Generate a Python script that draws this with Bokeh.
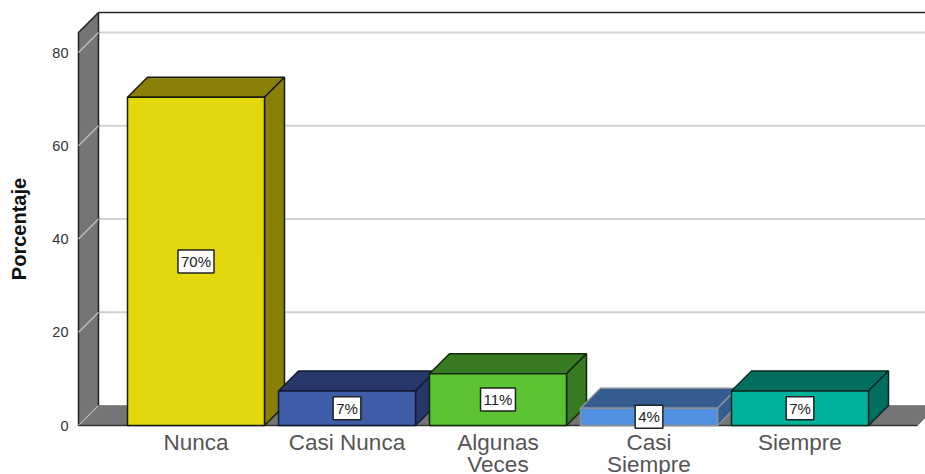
from bokeh.plotting import figure
from bokeh.models import Label, Range1d, FixedTicker
from bokeh.embed import file_html
from bokeh.resources import INLINE

categories = ["Nunca", "Casi Nunca", "Algunas\nVeces", "Casi\nSiempre", "Siempre"]
values = [70.4, 7.4, 11.1, 3.7, 7.4]
labels = ["70%", "7%", "11%", "4%", "7%"]
y_ticks = [0, 20, 40, 60, 80]
y_title = "Porcentaje"
front = ["#E3D80E", "#3F5CA8", "#5CC332", "#4F90E0", "#00B29C"]
side = ["#8B8007", "#27376A", "#387A22", "#355C90", "#006F60"]
edge = ["#1a1a00", "#111a30", "#10280a", "#8a8f98", "#00281f"]

W, H = 925, 474
ZERO_Y = 425
CAT_PX, ZERO_PX, UNIT_PX = 151.0, 195.5, (425 - 52) / 80
BAR = 137 / 151
DX, DY = 20 / CAT_PX, 20 / UNIT_PX

x0 = -ZERO_PX / CAT_PX
x1 = (W - ZERO_PX) / CAT_PX
axis_x = (72 - ZERO_PX) / CAT_PX
wall_x = (78 - ZERO_PX) / CAT_PX
floor_x = (917 - ZERO_PX) / CAT_PX
title_x = (18.5 - ZERO_PX) / CAT_PX
TOP = (425 - 32) / UNIT_PX

p = figure(width=W, height=H, output_backend="svg", toolbar_location=None,
           x_range=Range1d(x0, x1),
           y_range=Range1d(-(H - ZERO_Y) / UNIT_PX, ZERO_Y / UNIT_PX),
           min_border_left=0, min_border_right=0, min_border_top=0, min_border_bottom=0)
p.outline_line_color = None
p.grid.visible = False

# back wall top edge
p.line([wall_x + DX, x1], [TOP + DY, TOP + DY], line_color="#222222", line_width=1.5)
# back wall grid
for t in y_ticks[1:]:
    p.line([wall_x + DX, x1], [t + DY, t + DY], line_color="#d2d2d2", line_width=2)
# floor
p.patch([wall_x, floor_x, floor_x + DX, wall_x + DX], [0, 0, DY, DY],
        fill_color="#757575", line_color="#8a8a8a", line_width=1)
# left wall
p.patch([wall_x, wall_x + DX, wall_x + DX, wall_x], [0, DY, TOP + DY, TOP],
        fill_color="#757575", line_color="#222222", line_width=1.5)
for t in y_ticks:
    p.line([wall_x, wall_x + DX], [t, t + DY], line_color="#bdbdbd", line_width=1.5)
p.line([wall_x, floor_x], [0, 0], line_color="#333333", line_width=1.5)

for i, v in enumerate(values):
    l, r = i - BAR / 2, i + BAR / 2
    p.patch([l, r, r + DX, l + DX], [v, v, v + DY, v + DY], fill_color=side[i], line_color=edge[i], line_width=1.5)
    p.patch([r, r + DX, r + DX, r], [0, DY, v + DY, v], fill_color=side[i], line_color=edge[i], line_width=1.5)
    p.quad(left=l, right=r, bottom=0, top=v, fill_color=front[i], line_color=edge[i], line_width=1.5)

for i, v in enumerate(values):
    p.add_layout(Label(x=i, y=v / 2, text=labels[i], text_align="center", text_baseline="middle",
                       text_font="Liberation Sans", text_font_size="15px", text_color="#222222",
                       background_fill_color="white", border_line_color="#222222", border_line_width=1.5,
                       padding=3))

p.add_layout(Label(x=title_x, y=TOP / 2, text=y_title, angle=90, angle_units="deg",
                   text_align="center", text_baseline="middle",
                   text_font="Liberation Sans", text_font_style="bold", text_font_size="20px",
                   text_color="#111111"))

ax = p.yaxis[0]
ax.fixed_location = axis_x
ax.ticker = FixedTicker(ticks=y_ticks)
ax.axis_line_color = None
ax.major_tick_line_color = None
ax.minor_tick_line_color = None
ax.major_label_standoff = -2
ax.major_label_text_font = "Liberation Sans"
ax.major_label_text_font_size = "14.5px"
ax.major_label_text_color = "#333333"

bx = p.xaxis[0]
bx.fixed_location = 0
bx.ticker = FixedTicker(ticks=list(range(len(categories))))
bx.major_label_overrides = {i: c for i, c in enumerate(categories)}
bx.axis_line_color = None
bx.major_tick_line_color = None
bx.minor_tick_line_color = None
bx.major_label_standoff = -2
bx.major_label_text_font = "Liberation Sans"
bx.major_label_text_font_size = "22.5px"
bx.major_label_text_color = "#555555"
bx.major_label_text_line_height = 0.88

open("out.html", "w").write(file_html(p, INLINE))
